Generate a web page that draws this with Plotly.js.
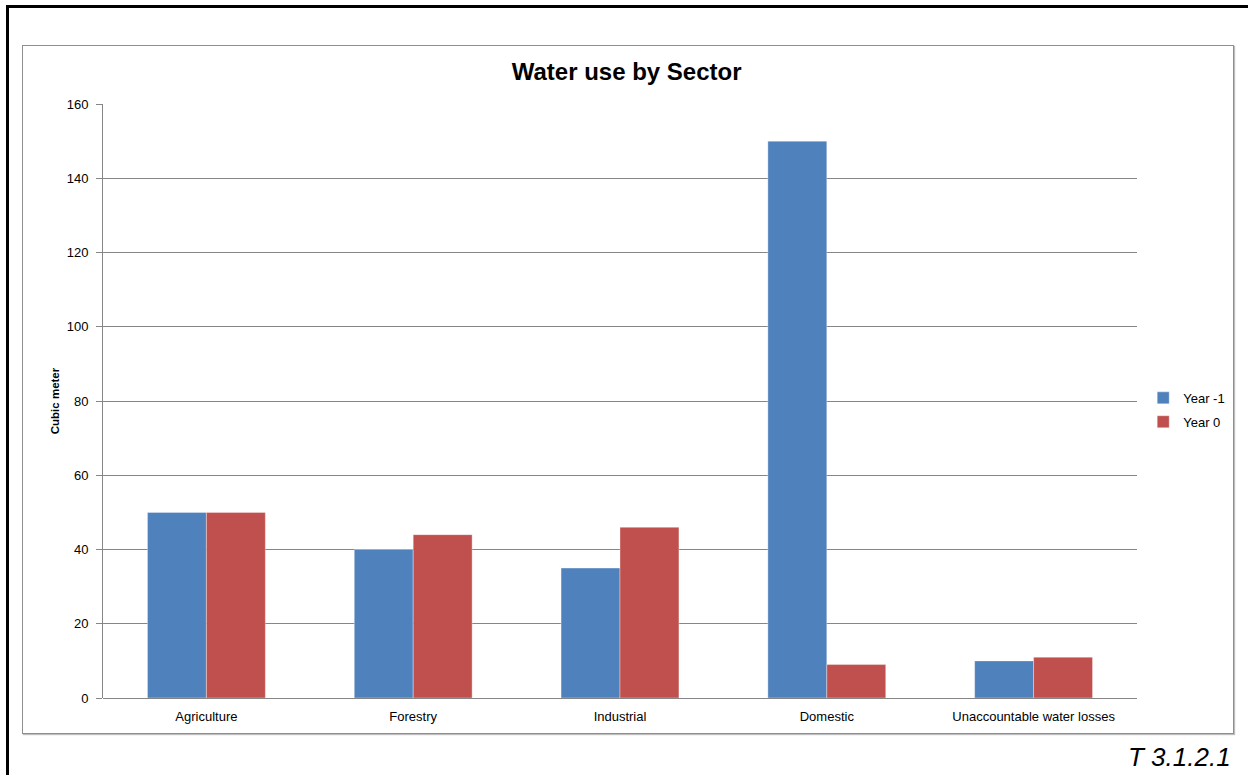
<!DOCTYPE html>
<html>
<head>
<meta charset="utf-8">
<script src="https://cdn.plot.ly/plotly-3.0.1.min.js"></script>
<style>
  html, body { margin: 0; padding: 0; background: #fff; overflow: hidden; }
  #wrap { position: relative; width: 1248px; height: 775px; }
  #chart { position: absolute; left: 0; top: 0; width: 1248px; height: 775px; }
  .frame { position: absolute; pointer-events: none; box-sizing: border-box; }
  #outer { left: 6px; top: 5px; width: 1260px; height: 800px; border: 3px solid #000; }
  #inner { left: 22px; top: 45px; width: 1212px; height: 689px; border: 1px solid #8f8f8f; box-shadow: 1px 1px 1px #bdbdbd; }
</style>
</head>
<body>
<div id="wrap">
  <div id="chart"></div>
  <div id="outer" class="frame"></div>
  <div id="inner" class="frame"></div>
</div>
<script>
const categories = ["Agriculture", "Forestry", "Industrial", "Domestic", "Unaccountable water losses"];
const seriesNames = ["Year -1", "Year 0"];
const yearMinus1 = [50, 40, 35, 150, 10];
const year0 = [50, 44, 46, 9, 11];
const yTickValues = [0, 20, 40, 60, 80, 100, 120, 140, 160];

const font = "Liberation Sans, Arial, sans-serif";
const gridColor = "#868686";

const traces = [
  {
    type: "bar", name: seriesNames[0], x: categories, y: yearMinus1,
    marker: { color: "#4F81BD", line: { color: "rgba(255,255,255,0.45)", width: 0.8 } },
    legendgroup: "a", hoverinfo: "x+y+name"
  },
  {
    type: "bar", name: seriesNames[1], x: categories, y: year0,
    marker: { color: "#C0504D", line: { color: "rgba(255,255,255,0.45)", width: 0.8 } },
    legendgroup: "b", hoverinfo: "x+y+name"
  }
];

const layout = {
  width: 1248, height: 775,
  margin: { l: 103, r: 111, t: 104, b: 77, pad: 0 },
  paper_bgcolor: "#ffffff", plot_bgcolor: "#ffffff",
  font: { family: font, size: 13, color: "#000" },
  title: {
    text: "<b>Water use by Sector</b>",
    font: { family: font, size: 24, color: "#000" },
    x: 632 / 1248, xanchor: "center", xref: "paper",
    y: 1 - 72 / 775, yanchor: "middle", yref: "container"
  },
  barmode: "group", bargap: 0.43, bargroupgap: 0,
  showlegend: true,
  legend: {
    x: 1.006, xanchor: "left", y: 0.485, yanchor: "middle",
    font: { family: font, size: 13, color: "#000" },
    traceorder: "grouped", tracegroupgap: 4,
    bgcolor: "rgba(0,0,0,0)", itemwidth: 30
  },
  xaxis: {
    type: "category", showline: false, ticks: "", showgrid: false,
    tickfont: { family: font, size: 13, color: "#000" },
    ticklabelstandoff: 9,
    fixedrange: true, zeroline: false
  },
  yaxis: {
    range: [0, 160], tickvals: yTickValues, ticktext: yTickValues.map(String),
    showgrid: true, gridcolor: gridColor, gridwidth: 1,
    zeroline: true, zerolinecolor: gridColor, zerolinewidth: 1,
    showline: true, linecolor: gridColor, linewidth: 1,
    ticks: "outside", ticklen: 6, tickcolor: gridColor, tickwidth: 1,
    ticklabelstandoff: 5,
    tickfont: { family: font, size: 13, color: "#000" },
    title: { text: "<b>Cubic meter</b>", font: { family: font, size: 11.5, color: "#000" }, standoff: 4 },
    fixedrange: true
  },
  annotations: [
    {
      text: "<i>T 3.1.2.1</i>", xref: "paper", yref: "paper",
      x: (1233 - 103) / 1034, xanchor: "right",
      y: -(757 - 698) / 594, yanchor: "middle",
      showarrow: false, font: { family: font, size: 26, color: "#000" }
    }
  ]
};

Plotly.newPlot("chart", traces, layout, { displayModeBar: false, staticPlot: true });
</script>
</body>
</html>
